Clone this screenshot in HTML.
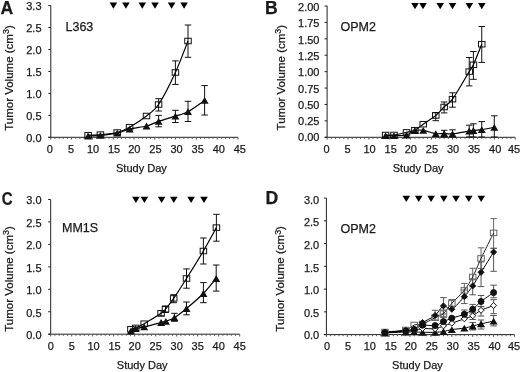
<!DOCTYPE html>
<html><head><meta charset="utf-8"><style>
html,body{margin:0;padding:0;background:#fff;}
body{width:520px;height:372px;overflow:hidden;}
svg{display:block;font-family:"Liberation Sans", sans-serif;will-change:transform;filter:blur(0.3px);}
text{fill:#1a1a1a;stroke:#1a1a1a;stroke-width:0.25px;}
</style></head><body>
<svg width="520" height="372" viewBox="0 0 520 372" shape-rendering="auto">
<line x1="50.8" y1="5.5" x2="50.8" y2="137.8" stroke="#222" stroke-width="1"/>
<line x1="48.3" y1="5.5" x2="50.8" y2="5.5" stroke="#222" stroke-width="1"/>
<text x="41.5" y="10.1" font-size="11" text-anchor="end" font-weight="normal" >3.3</text>
<line x1="48.3" y1="27.55" x2="50.8" y2="27.55" stroke="#222" stroke-width="1"/>
<text x="41.5" y="32.14" font-size="11" text-anchor="end" font-weight="normal" >2.5</text>
<line x1="48.3" y1="49.5" x2="50.8" y2="49.5" stroke="#222" stroke-width="1"/>
<text x="41.5" y="54.18" font-size="11" text-anchor="end" font-weight="normal" >2.0</text>
<line x1="48.3" y1="71.45" x2="50.8" y2="71.45" stroke="#222" stroke-width="1"/>
<text x="41.5" y="76.22" font-size="11" text-anchor="end" font-weight="normal" >1.5</text>
<line x1="48.3" y1="93.4" x2="50.8" y2="93.4" stroke="#222" stroke-width="1"/>
<text x="41.5" y="98.26" font-size="11" text-anchor="end" font-weight="normal" >1.0</text>
<line x1="48.3" y1="115.35" x2="50.8" y2="115.35" stroke="#222" stroke-width="1"/>
<text x="41.5" y="120.3" font-size="11" text-anchor="end" font-weight="normal" >0.5</text>
<line x1="48.3" y1="137.3" x2="50.8" y2="137.3" stroke="#222" stroke-width="1"/>
<text x="41.5" y="142.34" font-size="11" text-anchor="end" font-weight="normal" >0.0</text>
<line x1="48.3" y1="137.3" x2="238" y2="137.3" stroke="#222" stroke-width="1"/>
<line x1="50.8" y1="137.3" x2="50.8" y2="139.6" stroke="#555" stroke-width="1"/>
<line x1="54.96" y1="137.3" x2="54.96" y2="138.9" stroke="#555" stroke-width="1"/>
<line x1="59.12" y1="137.3" x2="59.12" y2="138.9" stroke="#555" stroke-width="1"/>
<line x1="63.28" y1="137.3" x2="63.28" y2="138.9" stroke="#555" stroke-width="1"/>
<line x1="67.44" y1="137.3" x2="67.44" y2="138.9" stroke="#555" stroke-width="1"/>
<line x1="71.6" y1="137.3" x2="71.6" y2="139.6" stroke="#555" stroke-width="1"/>
<line x1="75.76" y1="137.3" x2="75.76" y2="138.9" stroke="#555" stroke-width="1"/>
<line x1="79.92" y1="137.3" x2="79.92" y2="138.9" stroke="#555" stroke-width="1"/>
<line x1="84.08" y1="137.3" x2="84.08" y2="138.9" stroke="#555" stroke-width="1"/>
<line x1="88.24" y1="137.3" x2="88.24" y2="138.9" stroke="#555" stroke-width="1"/>
<line x1="92.4" y1="137.3" x2="92.4" y2="139.6" stroke="#555" stroke-width="1"/>
<line x1="96.56" y1="137.3" x2="96.56" y2="138.9" stroke="#555" stroke-width="1"/>
<line x1="100.72" y1="137.3" x2="100.72" y2="138.9" stroke="#555" stroke-width="1"/>
<line x1="104.88" y1="137.3" x2="104.88" y2="138.9" stroke="#555" stroke-width="1"/>
<line x1="109.04" y1="137.3" x2="109.04" y2="138.9" stroke="#555" stroke-width="1"/>
<line x1="113.2" y1="137.3" x2="113.2" y2="139.6" stroke="#555" stroke-width="1"/>
<line x1="117.36" y1="137.3" x2="117.36" y2="138.9" stroke="#555" stroke-width="1"/>
<line x1="121.52" y1="137.3" x2="121.52" y2="138.9" stroke="#555" stroke-width="1"/>
<line x1="125.68" y1="137.3" x2="125.68" y2="138.9" stroke="#555" stroke-width="1"/>
<line x1="129.84" y1="137.3" x2="129.84" y2="138.9" stroke="#555" stroke-width="1"/>
<line x1="134" y1="137.3" x2="134" y2="139.6" stroke="#555" stroke-width="1"/>
<line x1="138.16" y1="137.3" x2="138.16" y2="138.9" stroke="#555" stroke-width="1"/>
<line x1="142.32" y1="137.3" x2="142.32" y2="138.9" stroke="#555" stroke-width="1"/>
<line x1="146.48" y1="137.3" x2="146.48" y2="138.9" stroke="#555" stroke-width="1"/>
<line x1="150.64" y1="137.3" x2="150.64" y2="138.9" stroke="#555" stroke-width="1"/>
<line x1="154.8" y1="137.3" x2="154.8" y2="139.6" stroke="#555" stroke-width="1"/>
<line x1="158.96" y1="137.3" x2="158.96" y2="138.9" stroke="#555" stroke-width="1"/>
<line x1="163.12" y1="137.3" x2="163.12" y2="138.9" stroke="#555" stroke-width="1"/>
<line x1="167.28" y1="137.3" x2="167.28" y2="138.9" stroke="#555" stroke-width="1"/>
<line x1="171.44" y1="137.3" x2="171.44" y2="138.9" stroke="#555" stroke-width="1"/>
<line x1="175.6" y1="137.3" x2="175.6" y2="139.6" stroke="#555" stroke-width="1"/>
<line x1="179.76" y1="137.3" x2="179.76" y2="138.9" stroke="#555" stroke-width="1"/>
<line x1="183.92" y1="137.3" x2="183.92" y2="138.9" stroke="#555" stroke-width="1"/>
<line x1="188.08" y1="137.3" x2="188.08" y2="138.9" stroke="#555" stroke-width="1"/>
<line x1="192.24" y1="137.3" x2="192.24" y2="138.9" stroke="#555" stroke-width="1"/>
<line x1="196.4" y1="137.3" x2="196.4" y2="139.6" stroke="#555" stroke-width="1"/>
<line x1="200.56" y1="137.3" x2="200.56" y2="138.9" stroke="#555" stroke-width="1"/>
<line x1="204.72" y1="137.3" x2="204.72" y2="138.9" stroke="#555" stroke-width="1"/>
<line x1="208.88" y1="137.3" x2="208.88" y2="138.9" stroke="#555" stroke-width="1"/>
<line x1="213.04" y1="137.3" x2="213.04" y2="138.9" stroke="#555" stroke-width="1"/>
<line x1="217.2" y1="137.3" x2="217.2" y2="139.6" stroke="#555" stroke-width="1"/>
<line x1="221.36" y1="137.3" x2="221.36" y2="138.9" stroke="#555" stroke-width="1"/>
<line x1="225.52" y1="137.3" x2="225.52" y2="138.9" stroke="#555" stroke-width="1"/>
<line x1="229.68" y1="137.3" x2="229.68" y2="138.9" stroke="#555" stroke-width="1"/>
<line x1="233.84" y1="137.3" x2="233.84" y2="138.9" stroke="#555" stroke-width="1"/>
<line x1="238" y1="137.3" x2="238" y2="139.6" stroke="#555" stroke-width="1"/>
<text x="49.9" y="152.8" font-size="11" text-anchor="middle" font-weight="normal" >0</text>
<text x="71.01" y="152.8" font-size="11" text-anchor="middle" font-weight="normal" >5</text>
<text x="93.02" y="152.8" font-size="11" text-anchor="middle" font-weight="normal" >10</text>
<text x="114.13" y="152.8" font-size="11" text-anchor="middle" font-weight="normal" >15</text>
<text x="134.34" y="152.8" font-size="11" text-anchor="middle" font-weight="normal" >20</text>
<text x="155.45" y="152.8" font-size="11" text-anchor="middle" font-weight="normal" >25</text>
<text x="176.56" y="152.8" font-size="11" text-anchor="middle" font-weight="normal" >30</text>
<text x="197.67" y="152.8" font-size="11" text-anchor="middle" font-weight="normal" >35</text>
<text x="218.78" y="152.8" font-size="11" text-anchor="middle" font-weight="normal" >40</text>
<text x="239.89" y="152.8" font-size="11" text-anchor="middle" font-weight="normal" >45</text>
<text x="141.4" y="171.6" font-size="11" text-anchor="middle" font-weight="normal" >Study Day</text>
<text x="-52.8" y="0" font-size="11" textLength="105.6" lengthAdjust="spacingAndGlyphs" transform="translate(12.8,78.05) rotate(-90)">Tumor Volume (cm<tspan dy="-3.4" font-size="8.5">3</tspan><tspan dy="3.4">)</tspan></text>
<text x="0.5" y="13.6" font-size="17.6" text-anchor="start" font-weight="bold" >A</text>
<text x="65.5" y="30.7" font-size="12.5" text-anchor="start" font-weight="normal" >L363</text>
<polygon points="109.6,2.6 117.2,2.6 113.4,8.8" fill="#000"/>
<polygon points="122.1,2.6 129.7,2.6 125.9,8.8" fill="#000"/>
<polygon points="138.5,2.6 146.1,2.6 142.3,8.8" fill="#000"/>
<polygon points="151.2,2.6 158.8,2.6 155,8.8" fill="#000"/>
<polygon points="167.8,2.6 175.4,2.6 171.6,8.8" fill="#000"/>
<polygon points="180.3,2.6 187.9,2.6 184.1,8.8" fill="#000"/>
<line x1="158.6" y1="98.7" x2="158.6" y2="111" stroke="#111" stroke-width="1"/>
<line x1="155.35" y1="98.7" x2="161.85" y2="98.7" stroke="#111" stroke-width="1"/>
<line x1="155.35" y1="111" x2="161.85" y2="111" stroke="#111" stroke-width="1"/>
<line x1="175.4" y1="60.9" x2="175.4" y2="84.4" stroke="#111" stroke-width="1"/>
<line x1="172.15" y1="60.9" x2="178.65" y2="60.9" stroke="#111" stroke-width="1"/>
<line x1="172.15" y1="84.4" x2="178.65" y2="84.4" stroke="#111" stroke-width="1"/>
<line x1="188" y1="25" x2="188" y2="57.3" stroke="#111" stroke-width="1"/>
<line x1="184.75" y1="25" x2="191.25" y2="25" stroke="#111" stroke-width="1"/>
<line x1="184.75" y1="57.3" x2="191.25" y2="57.3" stroke="#111" stroke-width="1"/>
<line x1="158.6" y1="115.4" x2="158.6" y2="126.8" stroke="#111" stroke-width="1"/>
<line x1="155.35" y1="115.4" x2="161.85" y2="115.4" stroke="#111" stroke-width="1"/>
<line x1="155.35" y1="126.8" x2="161.85" y2="126.8" stroke="#111" stroke-width="1"/>
<line x1="175.4" y1="110.3" x2="175.4" y2="122.5" stroke="#111" stroke-width="1"/>
<line x1="172.15" y1="110.3" x2="178.65" y2="110.3" stroke="#111" stroke-width="1"/>
<line x1="172.15" y1="122.5" x2="178.65" y2="122.5" stroke="#111" stroke-width="1"/>
<line x1="188" y1="101.3" x2="188" y2="121.5" stroke="#111" stroke-width="1"/>
<line x1="184.75" y1="101.3" x2="191.25" y2="101.3" stroke="#111" stroke-width="1"/>
<line x1="184.75" y1="121.5" x2="191.25" y2="121.5" stroke="#111" stroke-width="1"/>
<line x1="204.6" y1="85.6" x2="204.6" y2="115" stroke="#111" stroke-width="1"/>
<line x1="201.35" y1="85.6" x2="207.85" y2="85.6" stroke="#111" stroke-width="1"/>
<line x1="201.35" y1="115" x2="207.85" y2="115" stroke="#111" stroke-width="1"/>
<path d="M88.1,135.2 C89.7,135.12 96.62,134.95 100.4,134.6 C104.18,134.25 113.4,133.46 117.2,132.5 C121,131.54 125.79,129.34 129.6,127.2 C133.41,125.06 142.73,118.95 146.5,116 C150.27,113.05 154.84,110.16 158.6,104.5 C162.36,98.84 171.58,80.75 175.4,72.5 C179.22,64.25 186.36,45.09 188,41" fill="none" stroke="#000" stroke-width="1.2"/>
<path d="M88.1,136 C89.7,135.92 96.62,135.76 100.4,135.4 C104.18,135.04 113.4,134.03 117.2,133.2 C121,132.37 125.79,129.94 129.6,129 C133.41,128.06 142.73,126.99 146.5,126 C150.27,125.01 154.84,122.69 158.6,121.4 C162.36,120.11 171.58,117.36 175.4,116.1 C179.22,114.84 184.2,113.74 188,111.7 C191.8,109.66 202.44,101.87 204.6,100.4" fill="none" stroke="#000" stroke-width="1.2"/>
<rect x="84.85" y="132.45" width="6.5" height="5.5" fill="none" stroke="#111" stroke-width="1"/>
<rect x="97.15" y="131.85" width="6.5" height="5.5" fill="none" stroke="#111" stroke-width="1"/>
<rect x="113.95" y="129.75" width="6.5" height="5.5" fill="none" stroke="#111" stroke-width="1"/>
<rect x="126.35" y="124.45" width="6.5" height="5.5" fill="none" stroke="#111" stroke-width="1"/>
<rect x="143.25" y="113.25" width="6.5" height="5.5" fill="none" stroke="#111" stroke-width="1"/>
<rect x="155.35" y="101.75" width="6.5" height="5.5" fill="none" stroke="#111" stroke-width="1"/>
<rect x="172.15" y="69.75" width="6.5" height="5.5" fill="none" stroke="#111" stroke-width="1"/>
<rect x="184.75" y="38.25" width="6.5" height="5.5" fill="none" stroke="#111" stroke-width="1"/>
<polygon points="84.1,139.4 92.1,139.4 88.1,132.6" fill="#111"/>
<polygon points="96.4,138.8 104.4,138.8 100.4,132" fill="#111"/>
<polygon points="113.2,136.6 121.2,136.6 117.2,129.8" fill="#111"/>
<polygon points="125.6,132.4 133.6,132.4 129.6,125.6" fill="#111"/>
<polygon points="142.5,129.4 150.5,129.4 146.5,122.6" fill="#111"/>
<polygon points="154.6,124.8 162.6,124.8 158.6,118" fill="#111"/>
<polygon points="171.4,119.5 179.4,119.5 175.4,112.7" fill="#111"/>
<polygon points="184,115.1 192,115.1 188,108.3" fill="#111"/>
<polygon points="200.6,103.8 208.6,103.8 204.6,97" fill="#111"/>
<line x1="327.1" y1="5.8" x2="327.1" y2="137.8" stroke="#222" stroke-width="1"/>
<line x1="324.6" y1="6" x2="327.1" y2="6" stroke="#222" stroke-width="1"/>
<text x="319.5" y="11.1" font-size="11" text-anchor="end" font-weight="normal" >2.00</text>
<line x1="324.6" y1="22.41" x2="327.1" y2="22.41" stroke="#222" stroke-width="1"/>
<text x="319.5" y="27.38" font-size="11" text-anchor="end" font-weight="normal" >1.75</text>
<line x1="324.6" y1="38.83" x2="327.1" y2="38.83" stroke="#222" stroke-width="1"/>
<text x="319.5" y="43.66" font-size="11" text-anchor="end" font-weight="normal" >1.50</text>
<line x1="324.6" y1="55.24" x2="327.1" y2="55.24" stroke="#222" stroke-width="1"/>
<text x="319.5" y="59.94" font-size="11" text-anchor="end" font-weight="normal" >1.25</text>
<line x1="324.6" y1="71.65" x2="327.1" y2="71.65" stroke="#222" stroke-width="1"/>
<text x="319.5" y="76.22" font-size="11" text-anchor="end" font-weight="normal" >1.00</text>
<line x1="324.6" y1="88.06" x2="327.1" y2="88.06" stroke="#222" stroke-width="1"/>
<text x="319.5" y="92.5" font-size="11" text-anchor="end" font-weight="normal" >0.75</text>
<line x1="324.6" y1="104.48" x2="327.1" y2="104.48" stroke="#222" stroke-width="1"/>
<text x="319.5" y="108.78" font-size="11" text-anchor="end" font-weight="normal" >0.50</text>
<line x1="324.6" y1="120.89" x2="327.1" y2="120.89" stroke="#222" stroke-width="1"/>
<text x="319.5" y="125.06" font-size="11" text-anchor="end" font-weight="normal" >0.25</text>
<line x1="324.6" y1="137.3" x2="327.1" y2="137.3" stroke="#222" stroke-width="1"/>
<text x="319.5" y="141.34" font-size="11" text-anchor="end" font-weight="normal" >0.00</text>
<line x1="324.6" y1="137.3" x2="515.2" y2="137.3" stroke="#222" stroke-width="1"/>
<line x1="327.1" y1="137.3" x2="327.1" y2="139.6" stroke="#555" stroke-width="1"/>
<line x1="331.28" y1="137.3" x2="331.28" y2="138.9" stroke="#555" stroke-width="1"/>
<line x1="335.46" y1="137.3" x2="335.46" y2="138.9" stroke="#555" stroke-width="1"/>
<line x1="339.64" y1="137.3" x2="339.64" y2="138.9" stroke="#555" stroke-width="1"/>
<line x1="343.82" y1="137.3" x2="343.82" y2="138.9" stroke="#555" stroke-width="1"/>
<line x1="348" y1="137.3" x2="348" y2="139.6" stroke="#555" stroke-width="1"/>
<line x1="352.18" y1="137.3" x2="352.18" y2="138.9" stroke="#555" stroke-width="1"/>
<line x1="356.36" y1="137.3" x2="356.36" y2="138.9" stroke="#555" stroke-width="1"/>
<line x1="360.54" y1="137.3" x2="360.54" y2="138.9" stroke="#555" stroke-width="1"/>
<line x1="364.72" y1="137.3" x2="364.72" y2="138.9" stroke="#555" stroke-width="1"/>
<line x1="368.9" y1="137.3" x2="368.9" y2="139.6" stroke="#555" stroke-width="1"/>
<line x1="373.08" y1="137.3" x2="373.08" y2="138.9" stroke="#555" stroke-width="1"/>
<line x1="377.26" y1="137.3" x2="377.26" y2="138.9" stroke="#555" stroke-width="1"/>
<line x1="381.44" y1="137.3" x2="381.44" y2="138.9" stroke="#555" stroke-width="1"/>
<line x1="385.62" y1="137.3" x2="385.62" y2="138.9" stroke="#555" stroke-width="1"/>
<line x1="389.8" y1="137.3" x2="389.8" y2="139.6" stroke="#555" stroke-width="1"/>
<line x1="393.98" y1="137.3" x2="393.98" y2="138.9" stroke="#555" stroke-width="1"/>
<line x1="398.16" y1="137.3" x2="398.16" y2="138.9" stroke="#555" stroke-width="1"/>
<line x1="402.34" y1="137.3" x2="402.34" y2="138.9" stroke="#555" stroke-width="1"/>
<line x1="406.52" y1="137.3" x2="406.52" y2="138.9" stroke="#555" stroke-width="1"/>
<line x1="410.7" y1="137.3" x2="410.7" y2="139.6" stroke="#555" stroke-width="1"/>
<line x1="414.88" y1="137.3" x2="414.88" y2="138.9" stroke="#555" stroke-width="1"/>
<line x1="419.06" y1="137.3" x2="419.06" y2="138.9" stroke="#555" stroke-width="1"/>
<line x1="423.24" y1="137.3" x2="423.24" y2="138.9" stroke="#555" stroke-width="1"/>
<line x1="427.42" y1="137.3" x2="427.42" y2="138.9" stroke="#555" stroke-width="1"/>
<line x1="431.6" y1="137.3" x2="431.6" y2="139.6" stroke="#555" stroke-width="1"/>
<line x1="435.78" y1="137.3" x2="435.78" y2="138.9" stroke="#555" stroke-width="1"/>
<line x1="439.96" y1="137.3" x2="439.96" y2="138.9" stroke="#555" stroke-width="1"/>
<line x1="444.14" y1="137.3" x2="444.14" y2="138.9" stroke="#555" stroke-width="1"/>
<line x1="448.32" y1="137.3" x2="448.32" y2="138.9" stroke="#555" stroke-width="1"/>
<line x1="452.5" y1="137.3" x2="452.5" y2="139.6" stroke="#555" stroke-width="1"/>
<line x1="456.68" y1="137.3" x2="456.68" y2="138.9" stroke="#555" stroke-width="1"/>
<line x1="460.86" y1="137.3" x2="460.86" y2="138.9" stroke="#555" stroke-width="1"/>
<line x1="465.04" y1="137.3" x2="465.04" y2="138.9" stroke="#555" stroke-width="1"/>
<line x1="469.22" y1="137.3" x2="469.22" y2="138.9" stroke="#555" stroke-width="1"/>
<line x1="473.4" y1="137.3" x2="473.4" y2="139.6" stroke="#555" stroke-width="1"/>
<line x1="477.58" y1="137.3" x2="477.58" y2="138.9" stroke="#555" stroke-width="1"/>
<line x1="481.76" y1="137.3" x2="481.76" y2="138.9" stroke="#555" stroke-width="1"/>
<line x1="485.94" y1="137.3" x2="485.94" y2="138.9" stroke="#555" stroke-width="1"/>
<line x1="490.12" y1="137.3" x2="490.12" y2="138.9" stroke="#555" stroke-width="1"/>
<line x1="494.3" y1="137.3" x2="494.3" y2="139.6" stroke="#555" stroke-width="1"/>
<line x1="498.48" y1="137.3" x2="498.48" y2="138.9" stroke="#555" stroke-width="1"/>
<line x1="502.66" y1="137.3" x2="502.66" y2="138.9" stroke="#555" stroke-width="1"/>
<line x1="506.84" y1="137.3" x2="506.84" y2="138.9" stroke="#555" stroke-width="1"/>
<line x1="511.02" y1="137.3" x2="511.02" y2="138.9" stroke="#555" stroke-width="1"/>
<line x1="515.2" y1="137.3" x2="515.2" y2="139.6" stroke="#555" stroke-width="1"/>
<text x="326.5" y="152.8" font-size="11" text-anchor="middle" font-weight="normal" >0</text>
<text x="347.58" y="152.8" font-size="11" text-anchor="middle" font-weight="normal" >5</text>
<text x="369.57" y="152.8" font-size="11" text-anchor="middle" font-weight="normal" >10</text>
<text x="390.65" y="152.8" font-size="11" text-anchor="middle" font-weight="normal" >15</text>
<text x="410.84" y="152.8" font-size="11" text-anchor="middle" font-weight="normal" >20</text>
<text x="431.93" y="152.8" font-size="11" text-anchor="middle" font-weight="normal" >25</text>
<text x="453.01" y="152.8" font-size="11" text-anchor="middle" font-weight="normal" >30</text>
<text x="474.1" y="152.8" font-size="11" text-anchor="middle" font-weight="normal" >35</text>
<text x="495.18" y="152.8" font-size="11" text-anchor="middle" font-weight="normal" >40</text>
<text x="514" y="152.8" font-size="11" text-anchor="middle" font-weight="normal" >45</text>
<text x="418.15" y="171.6" font-size="11" text-anchor="middle" font-weight="normal" >Study Day</text>
<text x="-52.8" y="0" font-size="11" textLength="105.6" lengthAdjust="spacingAndGlyphs" transform="translate(284.6,77.65) rotate(-90)">Tumor Volume (cm<tspan dy="-3.4" font-size="8.5">3</tspan><tspan dy="3.4">)</tspan></text>
<text x="265.1" y="13.8" font-size="17.6" text-anchor="start" font-weight="bold" >B</text>
<text x="340.5" y="30.7" font-size="12.5" text-anchor="start" font-weight="normal" >OPM2</text>
<polygon points="411.2,3.1 418.8,3.1 415,9.3" fill="#000"/>
<polygon points="419.2,3.1 426.8,3.1 423,9.3" fill="#000"/>
<polygon points="436.4,3.1 444,3.1 440.2,9.3" fill="#000"/>
<polygon points="448.7,3.1 456.3,3.1 452.5,9.3" fill="#000"/>
<polygon points="465.5,3.1 473.1,3.1 469.3,9.3" fill="#000"/>
<polygon points="478,3.1 485.6,3.1 481.8,9.3" fill="#000"/>
<line x1="435.78" y1="112.5" x2="435.78" y2="120.7" stroke="#111" stroke-width="1"/>
<line x1="432.53" y1="112.5" x2="439.03" y2="112.5" stroke="#111" stroke-width="1"/>
<line x1="432.53" y1="120.7" x2="439.03" y2="120.7" stroke="#111" stroke-width="1"/>
<line x1="444.14" y1="102" x2="444.14" y2="112.9" stroke="#111" stroke-width="1"/>
<line x1="440.89" y1="102" x2="447.39" y2="102" stroke="#111" stroke-width="1"/>
<line x1="440.89" y1="112.9" x2="447.39" y2="112.9" stroke="#111" stroke-width="1"/>
<line x1="452.5" y1="92.8" x2="452.5" y2="107.2" stroke="#111" stroke-width="1"/>
<line x1="449.25" y1="92.8" x2="455.75" y2="92.8" stroke="#111" stroke-width="1"/>
<line x1="449.25" y1="107.2" x2="455.75" y2="107.2" stroke="#111" stroke-width="1"/>
<line x1="469.22" y1="57.5" x2="469.22" y2="85.9" stroke="#111" stroke-width="1"/>
<line x1="465.97" y1="57.5" x2="472.47" y2="57.5" stroke="#111" stroke-width="1"/>
<line x1="465.97" y1="85.9" x2="472.47" y2="85.9" stroke="#111" stroke-width="1"/>
<line x1="473.4" y1="51.5" x2="473.4" y2="79.3" stroke="#111" stroke-width="1"/>
<line x1="470.15" y1="51.5" x2="476.65" y2="51.5" stroke="#111" stroke-width="1"/>
<line x1="470.15" y1="79.3" x2="476.65" y2="79.3" stroke="#111" stroke-width="1"/>
<line x1="481.76" y1="26.5" x2="481.76" y2="62.4" stroke="#111" stroke-width="1"/>
<line x1="478.51" y1="26.5" x2="485.01" y2="26.5" stroke="#111" stroke-width="1"/>
<line x1="478.51" y1="62.4" x2="485.01" y2="62.4" stroke="#111" stroke-width="1"/>
<line x1="469.22" y1="125.2" x2="469.22" y2="137" stroke="#111" stroke-width="1"/>
<line x1="465.97" y1="125.2" x2="472.47" y2="125.2" stroke="#111" stroke-width="1"/>
<line x1="465.97" y1="137" x2="472.47" y2="137" stroke="#111" stroke-width="1"/>
<line x1="473.4" y1="123.8" x2="473.4" y2="137" stroke="#111" stroke-width="1"/>
<line x1="470.15" y1="123.8" x2="476.65" y2="123.8" stroke="#111" stroke-width="1"/>
<line x1="470.15" y1="137" x2="476.65" y2="137" stroke="#111" stroke-width="1"/>
<line x1="481.76" y1="121.6" x2="481.76" y2="137" stroke="#111" stroke-width="1"/>
<line x1="478.51" y1="121.6" x2="485.01" y2="121.6" stroke="#111" stroke-width="1"/>
<line x1="478.51" y1="137" x2="485.01" y2="137" stroke="#111" stroke-width="1"/>
<line x1="494.3" y1="115.8" x2="494.3" y2="137" stroke="#111" stroke-width="1"/>
<line x1="491.05" y1="115.8" x2="497.55" y2="115.8" stroke="#111" stroke-width="1"/>
<line x1="491.05" y1="137" x2="497.55" y2="137" stroke="#111" stroke-width="1"/>
<line x1="444.14" y1="130.3" x2="444.14" y2="137" stroke="#111" stroke-width="1"/>
<line x1="440.89" y1="130.3" x2="447.39" y2="130.3" stroke="#111" stroke-width="1"/>
<line x1="440.89" y1="137" x2="447.39" y2="137" stroke="#111" stroke-width="1"/>
<line x1="452.5" y1="129.8" x2="452.5" y2="137" stroke="#111" stroke-width="1"/>
<line x1="449.25" y1="129.8" x2="455.75" y2="129.8" stroke="#111" stroke-width="1"/>
<line x1="449.25" y1="137" x2="455.75" y2="137" stroke="#111" stroke-width="1"/>
<path d="M385.62,135 C386.71,135 391.26,135.34 393.98,135 C396.7,134.66 403.8,133.02 406.52,132.4 C409.24,131.78 412.71,131.27 414.88,130.2 C417.05,129.13 420.52,126.11 423.24,124.2 C425.96,122.29 433.06,117.74 435.78,115.5 C438.5,113.26 441.97,109.12 444.14,107 C446.31,104.88 449.24,103.8 452.5,99.2 C455.76,94.6 466.5,76.07 469.22,71.6 C471.94,67.13 471.77,68.36 473.4,64.8 C475.03,61.24 480.67,46.88 481.76,44.2" fill="none" stroke="#000" stroke-width="1.2"/>
<path d="M385.62,135.7 C386.71,135.7 391.26,135.79 393.98,135.7 C396.7,135.61 403.8,135.68 406.52,135 C409.24,134.32 412.71,131.11 414.88,130.5 C417.05,129.89 420.52,129.9 423.24,130.3 C425.96,130.7 433.06,133.18 435.78,133.6 C438.5,134.02 441.97,133.47 444.14,133.5 C446.31,133.53 449.24,134.12 452.5,133.8 C455.76,133.48 466.5,131.43 469.22,131 C471.94,130.57 471.77,130.67 473.4,130.5 C475.03,130.33 479.04,130.12 481.76,129.7 C484.48,129.28 492.67,127.61 494.3,127.3" fill="none" stroke="#000" stroke-width="1.2"/>
<rect x="382.37" y="132.25" width="6.5" height="5.5" fill="none" stroke="#111" stroke-width="1"/>
<rect x="390.73" y="132.25" width="6.5" height="5.5" fill="none" stroke="#111" stroke-width="1"/>
<rect x="403.27" y="129.65" width="6.5" height="5.5" fill="none" stroke="#111" stroke-width="1"/>
<rect x="411.63" y="127.45" width="6.5" height="5.5" fill="none" stroke="#111" stroke-width="1"/>
<rect x="419.99" y="121.45" width="6.5" height="5.5" fill="none" stroke="#111" stroke-width="1"/>
<rect x="432.53" y="112.75" width="6.5" height="5.5" fill="none" stroke="#111" stroke-width="1"/>
<rect x="440.89" y="104.25" width="6.5" height="5.5" fill="none" stroke="#111" stroke-width="1"/>
<rect x="449.25" y="96.45" width="6.5" height="5.5" fill="none" stroke="#111" stroke-width="1"/>
<rect x="465.97" y="68.85" width="6.5" height="5.5" fill="none" stroke="#111" stroke-width="1"/>
<rect x="470.15" y="62.05" width="6.5" height="5.5" fill="none" stroke="#111" stroke-width="1"/>
<rect x="478.51" y="41.45" width="6.5" height="5.5" fill="none" stroke="#111" stroke-width="1"/>
<polygon points="381.62,139.1 389.62,139.1 385.62,132.3" fill="#111"/>
<polygon points="389.98,139.1 397.98,139.1 393.98,132.3" fill="#111"/>
<polygon points="402.52,138.4 410.52,138.4 406.52,131.6" fill="#111"/>
<polygon points="410.88,133.9 418.88,133.9 414.88,127.1" fill="#111"/>
<polygon points="419.24,133.7 427.24,133.7 423.24,126.9" fill="#111"/>
<polygon points="431.78,137 439.78,137 435.78,130.2" fill="#111"/>
<polygon points="440.14,136.9 448.14,136.9 444.14,130.1" fill="#111"/>
<polygon points="448.5,137.2 456.5,137.2 452.5,130.4" fill="#111"/>
<polygon points="465.22,134.4 473.22,134.4 469.22,127.6" fill="#111"/>
<polygon points="469.4,133.9 477.4,133.9 473.4,127.1" fill="#111"/>
<polygon points="477.76,133.1 485.76,133.1 481.76,126.3" fill="#111"/>
<polygon points="490.3,130.7 498.3,130.7 494.3,123.9" fill="#111"/>
<line x1="50.7" y1="199.5" x2="50.7" y2="334.7" stroke="#222" stroke-width="1"/>
<line x1="48.2" y1="199.5" x2="50.7" y2="199.5" stroke="#222" stroke-width="1"/>
<text x="41.5" y="204" font-size="11" text-anchor="end" font-weight="normal" >3.0</text>
<line x1="48.2" y1="221.95" x2="50.7" y2="221.95" stroke="#222" stroke-width="1"/>
<text x="41.5" y="226.5" font-size="11" text-anchor="end" font-weight="normal" >2.5</text>
<line x1="48.2" y1="244.4" x2="50.7" y2="244.4" stroke="#222" stroke-width="1"/>
<text x="41.5" y="249" font-size="11" text-anchor="end" font-weight="normal" >2.0</text>
<line x1="48.2" y1="266.85" x2="50.7" y2="266.85" stroke="#222" stroke-width="1"/>
<text x="41.5" y="271.5" font-size="11" text-anchor="end" font-weight="normal" >1.5</text>
<line x1="48.2" y1="289.3" x2="50.7" y2="289.3" stroke="#222" stroke-width="1"/>
<text x="41.5" y="294" font-size="11" text-anchor="end" font-weight="normal" >1.0</text>
<line x1="48.2" y1="311.75" x2="50.7" y2="311.75" stroke="#222" stroke-width="1"/>
<text x="41.5" y="316.5" font-size="11" text-anchor="end" font-weight="normal" >0.5</text>
<line x1="48.2" y1="334.2" x2="50.7" y2="334.2" stroke="#222" stroke-width="1"/>
<text x="41.5" y="339" font-size="11" text-anchor="end" font-weight="normal" >0.0</text>
<line x1="48.2" y1="334.2" x2="239.7" y2="334.2" stroke="#222" stroke-width="1"/>
<line x1="50.7" y1="334.2" x2="50.7" y2="336.5" stroke="#555" stroke-width="1"/>
<line x1="54.9" y1="334.2" x2="54.9" y2="335.8" stroke="#555" stroke-width="1"/>
<line x1="59.1" y1="334.2" x2="59.1" y2="335.8" stroke="#555" stroke-width="1"/>
<line x1="63.3" y1="334.2" x2="63.3" y2="335.8" stroke="#555" stroke-width="1"/>
<line x1="67.5" y1="334.2" x2="67.5" y2="335.8" stroke="#555" stroke-width="1"/>
<line x1="71.7" y1="334.2" x2="71.7" y2="336.5" stroke="#555" stroke-width="1"/>
<line x1="75.9" y1="334.2" x2="75.9" y2="335.8" stroke="#555" stroke-width="1"/>
<line x1="80.1" y1="334.2" x2="80.1" y2="335.8" stroke="#555" stroke-width="1"/>
<line x1="84.3" y1="334.2" x2="84.3" y2="335.8" stroke="#555" stroke-width="1"/>
<line x1="88.5" y1="334.2" x2="88.5" y2="335.8" stroke="#555" stroke-width="1"/>
<line x1="92.7" y1="334.2" x2="92.7" y2="336.5" stroke="#555" stroke-width="1"/>
<line x1="96.9" y1="334.2" x2="96.9" y2="335.8" stroke="#555" stroke-width="1"/>
<line x1="101.1" y1="334.2" x2="101.1" y2="335.8" stroke="#555" stroke-width="1"/>
<line x1="105.3" y1="334.2" x2="105.3" y2="335.8" stroke="#555" stroke-width="1"/>
<line x1="109.5" y1="334.2" x2="109.5" y2="335.8" stroke="#555" stroke-width="1"/>
<line x1="113.7" y1="334.2" x2="113.7" y2="336.5" stroke="#555" stroke-width="1"/>
<line x1="117.9" y1="334.2" x2="117.9" y2="335.8" stroke="#555" stroke-width="1"/>
<line x1="122.1" y1="334.2" x2="122.1" y2="335.8" stroke="#555" stroke-width="1"/>
<line x1="126.3" y1="334.2" x2="126.3" y2="335.8" stroke="#555" stroke-width="1"/>
<line x1="130.5" y1="334.2" x2="130.5" y2="335.8" stroke="#555" stroke-width="1"/>
<line x1="134.7" y1="334.2" x2="134.7" y2="336.5" stroke="#555" stroke-width="1"/>
<line x1="138.9" y1="334.2" x2="138.9" y2="335.8" stroke="#555" stroke-width="1"/>
<line x1="143.1" y1="334.2" x2="143.1" y2="335.8" stroke="#555" stroke-width="1"/>
<line x1="147.3" y1="334.2" x2="147.3" y2="335.8" stroke="#555" stroke-width="1"/>
<line x1="151.5" y1="334.2" x2="151.5" y2="335.8" stroke="#555" stroke-width="1"/>
<line x1="155.7" y1="334.2" x2="155.7" y2="336.5" stroke="#555" stroke-width="1"/>
<line x1="159.9" y1="334.2" x2="159.9" y2="335.8" stroke="#555" stroke-width="1"/>
<line x1="164.1" y1="334.2" x2="164.1" y2="335.8" stroke="#555" stroke-width="1"/>
<line x1="168.3" y1="334.2" x2="168.3" y2="335.8" stroke="#555" stroke-width="1"/>
<line x1="172.5" y1="334.2" x2="172.5" y2="335.8" stroke="#555" stroke-width="1"/>
<line x1="176.7" y1="334.2" x2="176.7" y2="336.5" stroke="#555" stroke-width="1"/>
<line x1="180.9" y1="334.2" x2="180.9" y2="335.8" stroke="#555" stroke-width="1"/>
<line x1="185.1" y1="334.2" x2="185.1" y2="335.8" stroke="#555" stroke-width="1"/>
<line x1="189.3" y1="334.2" x2="189.3" y2="335.8" stroke="#555" stroke-width="1"/>
<line x1="193.5" y1="334.2" x2="193.5" y2="335.8" stroke="#555" stroke-width="1"/>
<line x1="197.7" y1="334.2" x2="197.7" y2="336.5" stroke="#555" stroke-width="1"/>
<line x1="201.9" y1="334.2" x2="201.9" y2="335.8" stroke="#555" stroke-width="1"/>
<line x1="206.1" y1="334.2" x2="206.1" y2="335.8" stroke="#555" stroke-width="1"/>
<line x1="210.3" y1="334.2" x2="210.3" y2="335.8" stroke="#555" stroke-width="1"/>
<line x1="214.5" y1="334.2" x2="214.5" y2="335.8" stroke="#555" stroke-width="1"/>
<line x1="218.7" y1="334.2" x2="218.7" y2="336.5" stroke="#555" stroke-width="1"/>
<line x1="222.9" y1="334.2" x2="222.9" y2="335.8" stroke="#555" stroke-width="1"/>
<line x1="227.1" y1="334.2" x2="227.1" y2="335.8" stroke="#555" stroke-width="1"/>
<line x1="231.3" y1="334.2" x2="231.3" y2="335.8" stroke="#555" stroke-width="1"/>
<line x1="235.5" y1="334.2" x2="235.5" y2="335.8" stroke="#555" stroke-width="1"/>
<line x1="239.7" y1="334.2" x2="239.7" y2="336.5" stroke="#555" stroke-width="1"/>
<text x="50.7" y="349.7" font-size="11" text-anchor="middle" font-weight="normal" >0</text>
<text x="71.7" y="349.7" font-size="11" text-anchor="middle" font-weight="normal" >5</text>
<text x="93.6" y="349.7" font-size="11" text-anchor="middle" font-weight="normal" >10</text>
<text x="114.6" y="349.7" font-size="11" text-anchor="middle" font-weight="normal" >15</text>
<text x="134.7" y="349.7" font-size="11" text-anchor="middle" font-weight="normal" >20</text>
<text x="155.7" y="349.7" font-size="11" text-anchor="middle" font-weight="normal" >25</text>
<text x="176.7" y="349.7" font-size="11" text-anchor="middle" font-weight="normal" >30</text>
<text x="197.7" y="349.7" font-size="11" text-anchor="middle" font-weight="normal" >35</text>
<text x="218.7" y="349.7" font-size="11" text-anchor="middle" font-weight="normal" >40</text>
<text x="239.7" y="349.7" font-size="11" text-anchor="middle" font-weight="normal" >45</text>
<text x="142.2" y="368.5" font-size="11" text-anchor="middle" font-weight="normal" >Study Day</text>
<text x="-52.8" y="0" font-size="11" textLength="105.6" lengthAdjust="spacingAndGlyphs" transform="translate(12.8,279) rotate(-90)">Tumor Volume (cm<tspan dy="-3.4" font-size="8.5">3</tspan><tspan dy="3.4">)</tspan></text>
<text x="0" y="0" font-size="17.6" font-weight="bold" transform="translate(1.7,205) scale(0.85,1)">C</text>
<text x="62" y="232" font-size="12.5" text-anchor="start" font-weight="normal" >MM1S</text>
<polygon points="132.1,196.7 139.7,196.7 135.9,202.9" fill="#000"/>
<polygon points="140.6,196.7 148.2,196.7 144.4,202.9" fill="#000"/>
<polygon points="157.8,196.7 165.4,196.7 161.6,202.9" fill="#000"/>
<polygon points="170,196.7 177.6,196.7 173.8,202.9" fill="#000"/>
<polygon points="187.3,196.7 194.9,196.7 191.1,202.9" fill="#000"/>
<polygon points="200.2,196.7 207.8,196.7 204,202.9" fill="#000"/>
<line x1="186.5" y1="268.9" x2="186.5" y2="288.2" stroke="#111" stroke-width="1"/>
<line x1="183.25" y1="268.9" x2="189.75" y2="268.9" stroke="#111" stroke-width="1"/>
<line x1="183.25" y1="288.2" x2="189.75" y2="288.2" stroke="#111" stroke-width="1"/>
<line x1="173.7" y1="294.7" x2="173.7" y2="302.7" stroke="#111" stroke-width="1"/>
<line x1="170.45" y1="294.7" x2="176.95" y2="294.7" stroke="#111" stroke-width="1"/>
<line x1="170.45" y1="302.7" x2="176.95" y2="302.7" stroke="#111" stroke-width="1"/>
<line x1="203.4" y1="238" x2="203.4" y2="264" stroke="#111" stroke-width="1"/>
<line x1="200.15" y1="238" x2="206.65" y2="238" stroke="#111" stroke-width="1"/>
<line x1="200.15" y1="264" x2="206.65" y2="264" stroke="#111" stroke-width="1"/>
<line x1="216.4" y1="214.3" x2="216.4" y2="241.2" stroke="#111" stroke-width="1"/>
<line x1="213.15" y1="214.3" x2="219.65" y2="214.3" stroke="#111" stroke-width="1"/>
<line x1="213.15" y1="241.2" x2="219.65" y2="241.2" stroke="#111" stroke-width="1"/>
<line x1="165.5" y1="306" x2="165.5" y2="312.5" stroke="#111" stroke-width="1"/>
<line x1="162.25" y1="306" x2="168.75" y2="306" stroke="#111" stroke-width="1"/>
<line x1="162.25" y1="312.5" x2="168.75" y2="312.5" stroke="#111" stroke-width="1"/>
<line x1="161.1" y1="310.5" x2="161.1" y2="316" stroke="#111" stroke-width="1"/>
<line x1="157.85" y1="310.5" x2="164.35" y2="310.5" stroke="#111" stroke-width="1"/>
<line x1="157.85" y1="316" x2="164.35" y2="316" stroke="#111" stroke-width="1"/>
<line x1="216.2" y1="265" x2="216.2" y2="291.1" stroke="#111" stroke-width="1"/>
<line x1="212.95" y1="265" x2="219.45" y2="265" stroke="#111" stroke-width="1"/>
<line x1="212.95" y1="291.1" x2="219.45" y2="291.1" stroke="#111" stroke-width="1"/>
<line x1="203.4" y1="282.6" x2="203.4" y2="302.7" stroke="#111" stroke-width="1"/>
<line x1="200.15" y1="282.6" x2="206.65" y2="282.6" stroke="#111" stroke-width="1"/>
<line x1="200.15" y1="302.7" x2="206.65" y2="302.7" stroke="#111" stroke-width="1"/>
<line x1="186.5" y1="302" x2="186.5" y2="314.8" stroke="#111" stroke-width="1"/>
<line x1="183.25" y1="302" x2="189.75" y2="302" stroke="#111" stroke-width="1"/>
<line x1="183.25" y1="314.8" x2="189.75" y2="314.8" stroke="#111" stroke-width="1"/>
<line x1="174.4" y1="313.3" x2="174.4" y2="321.3" stroke="#111" stroke-width="1"/>
<line x1="171.15" y1="313.3" x2="177.65" y2="313.3" stroke="#111" stroke-width="1"/>
<line x1="171.15" y1="321.3" x2="177.65" y2="321.3" stroke="#111" stroke-width="1"/>
<path d="M130.9,329.3 C131.52,329.12 133.97,328.63 135.7,327.9 C137.43,327.17 140.9,325.6 144.2,323.7 C147.5,321.8 158.33,315.19 161.1,313.3 C163.87,311.42 163.86,311.14 165.5,309.2 C167.14,307.26 170.97,302.39 173.7,298.4 C176.43,294.41 182.64,284.66 186.5,278.5 C190.36,272.34 199.51,257.62 203.4,251 C207.29,244.38 214.71,230.64 216.4,227.6" fill="none" stroke="#000" stroke-width="1.2"/>
<path d="M130.9,331 C131.52,330.69 133.97,329.13 135.7,328.6 C137.43,328.07 140.9,327.69 144.2,326.9 C147.5,326.11 158.28,323.23 161.1,322.5 C163.92,321.77 164.17,321.92 165.9,321.3 C167.63,320.68 171.72,319.36 174.4,317.7 C177.08,316.04 182.73,311.65 186.5,308.5 C190.27,305.35 199.54,297.4 203.4,293.5 C207.26,289.6 214.54,280.45 216.2,278.5" fill="none" stroke="#000" stroke-width="1.2"/>
<rect x="127.65" y="326.55" width="6.5" height="5.5" fill="none" stroke="#111" stroke-width="1"/>
<rect x="132.45" y="325.15" width="6.5" height="5.5" fill="none" stroke="#111" stroke-width="1"/>
<rect x="140.95" y="320.95" width="6.5" height="5.5" fill="none" stroke="#111" stroke-width="1"/>
<rect x="157.85" y="310.55" width="6.5" height="5.5" fill="none" stroke="#111" stroke-width="1"/>
<rect x="162.25" y="306.45" width="6.5" height="5.5" fill="none" stroke="#111" stroke-width="1"/>
<rect x="170.45" y="295.65" width="6.5" height="5.5" fill="none" stroke="#111" stroke-width="1"/>
<rect x="183.25" y="275.75" width="6.5" height="5.5" fill="none" stroke="#111" stroke-width="1"/>
<rect x="200.15" y="248.25" width="6.5" height="5.5" fill="none" stroke="#111" stroke-width="1"/>
<rect x="213.15" y="224.85" width="6.5" height="5.5" fill="none" stroke="#111" stroke-width="1"/>
<polygon points="126.9,334.4 134.9,334.4 130.9,327.6" fill="#111"/>
<polygon points="131.7,332 139.7,332 135.7,325.2" fill="#111"/>
<polygon points="140.2,330.3 148.2,330.3 144.2,323.5" fill="#111"/>
<polygon points="157.1,325.9 165.1,325.9 161.1,319.1" fill="#111"/>
<polygon points="161.9,324.7 169.9,324.7 165.9,317.9" fill="#111"/>
<polygon points="170.4,321.1 178.4,321.1 174.4,314.3" fill="#111"/>
<polygon points="182.5,311.9 190.5,311.9 186.5,305.1" fill="#111"/>
<polygon points="199.4,296.9 207.4,296.9 203.4,290.1" fill="#111"/>
<polygon points="212.2,281.9 220.2,281.9 216.2,275.1" fill="#111"/>
<line x1="326.4" y1="198.1" x2="326.4" y2="335.1" stroke="#222" stroke-width="1"/>
<line x1="323.9" y1="198.1" x2="326.4" y2="198.1" stroke="#222" stroke-width="1"/>
<text x="319.2" y="203.9" font-size="11" text-anchor="end" font-weight="normal" >3.0</text>
<line x1="323.9" y1="220.85" x2="326.4" y2="220.85" stroke="#222" stroke-width="1"/>
<text x="319.2" y="226.48" font-size="11" text-anchor="end" font-weight="normal" >2.5</text>
<line x1="323.9" y1="243.6" x2="326.4" y2="243.6" stroke="#222" stroke-width="1"/>
<text x="319.2" y="249.06" font-size="11" text-anchor="end" font-weight="normal" >2.0</text>
<line x1="323.9" y1="266.35" x2="326.4" y2="266.35" stroke="#222" stroke-width="1"/>
<text x="319.2" y="271.64" font-size="11" text-anchor="end" font-weight="normal" >1.5</text>
<line x1="323.9" y1="289.1" x2="326.4" y2="289.1" stroke="#222" stroke-width="1"/>
<text x="319.2" y="294.22" font-size="11" text-anchor="end" font-weight="normal" >1.0</text>
<line x1="323.9" y1="311.85" x2="326.4" y2="311.85" stroke="#222" stroke-width="1"/>
<text x="319.2" y="316.8" font-size="11" text-anchor="end" font-weight="normal" >0.5</text>
<line x1="323.9" y1="334.6" x2="326.4" y2="334.6" stroke="#222" stroke-width="1"/>
<text x="319.2" y="339.38" font-size="11" text-anchor="end" font-weight="normal" >0.0</text>
<line x1="323.9" y1="334.6" x2="514.5" y2="334.6" stroke="#222" stroke-width="1"/>
<line x1="326.4" y1="334.6" x2="326.4" y2="336.9" stroke="#555" stroke-width="1"/>
<line x1="330.58" y1="334.6" x2="330.58" y2="336.2" stroke="#555" stroke-width="1"/>
<line x1="334.76" y1="334.6" x2="334.76" y2="336.2" stroke="#555" stroke-width="1"/>
<line x1="338.94" y1="334.6" x2="338.94" y2="336.2" stroke="#555" stroke-width="1"/>
<line x1="343.12" y1="334.6" x2="343.12" y2="336.2" stroke="#555" stroke-width="1"/>
<line x1="347.3" y1="334.6" x2="347.3" y2="336.9" stroke="#555" stroke-width="1"/>
<line x1="351.48" y1="334.6" x2="351.48" y2="336.2" stroke="#555" stroke-width="1"/>
<line x1="355.66" y1="334.6" x2="355.66" y2="336.2" stroke="#555" stroke-width="1"/>
<line x1="359.84" y1="334.6" x2="359.84" y2="336.2" stroke="#555" stroke-width="1"/>
<line x1="364.02" y1="334.6" x2="364.02" y2="336.2" stroke="#555" stroke-width="1"/>
<line x1="368.2" y1="334.6" x2="368.2" y2="336.9" stroke="#555" stroke-width="1"/>
<line x1="372.38" y1="334.6" x2="372.38" y2="336.2" stroke="#555" stroke-width="1"/>
<line x1="376.56" y1="334.6" x2="376.56" y2="336.2" stroke="#555" stroke-width="1"/>
<line x1="380.74" y1="334.6" x2="380.74" y2="336.2" stroke="#555" stroke-width="1"/>
<line x1="384.92" y1="334.6" x2="384.92" y2="336.2" stroke="#555" stroke-width="1"/>
<line x1="389.1" y1="334.6" x2="389.1" y2="336.9" stroke="#555" stroke-width="1"/>
<line x1="393.28" y1="334.6" x2="393.28" y2="336.2" stroke="#555" stroke-width="1"/>
<line x1="397.46" y1="334.6" x2="397.46" y2="336.2" stroke="#555" stroke-width="1"/>
<line x1="401.64" y1="334.6" x2="401.64" y2="336.2" stroke="#555" stroke-width="1"/>
<line x1="405.82" y1="334.6" x2="405.82" y2="336.2" stroke="#555" stroke-width="1"/>
<line x1="410" y1="334.6" x2="410" y2="336.9" stroke="#555" stroke-width="1"/>
<line x1="414.18" y1="334.6" x2="414.18" y2="336.2" stroke="#555" stroke-width="1"/>
<line x1="418.36" y1="334.6" x2="418.36" y2="336.2" stroke="#555" stroke-width="1"/>
<line x1="422.54" y1="334.6" x2="422.54" y2="336.2" stroke="#555" stroke-width="1"/>
<line x1="426.72" y1="334.6" x2="426.72" y2="336.2" stroke="#555" stroke-width="1"/>
<line x1="430.9" y1="334.6" x2="430.9" y2="336.9" stroke="#555" stroke-width="1"/>
<line x1="435.08" y1="334.6" x2="435.08" y2="336.2" stroke="#555" stroke-width="1"/>
<line x1="439.26" y1="334.6" x2="439.26" y2="336.2" stroke="#555" stroke-width="1"/>
<line x1="443.44" y1="334.6" x2="443.44" y2="336.2" stroke="#555" stroke-width="1"/>
<line x1="447.62" y1="334.6" x2="447.62" y2="336.2" stroke="#555" stroke-width="1"/>
<line x1="451.8" y1="334.6" x2="451.8" y2="336.9" stroke="#555" stroke-width="1"/>
<line x1="455.98" y1="334.6" x2="455.98" y2="336.2" stroke="#555" stroke-width="1"/>
<line x1="460.16" y1="334.6" x2="460.16" y2="336.2" stroke="#555" stroke-width="1"/>
<line x1="464.34" y1="334.6" x2="464.34" y2="336.2" stroke="#555" stroke-width="1"/>
<line x1="468.52" y1="334.6" x2="468.52" y2="336.2" stroke="#555" stroke-width="1"/>
<line x1="472.7" y1="334.6" x2="472.7" y2="336.9" stroke="#555" stroke-width="1"/>
<line x1="476.88" y1="334.6" x2="476.88" y2="336.2" stroke="#555" stroke-width="1"/>
<line x1="481.06" y1="334.6" x2="481.06" y2="336.2" stroke="#555" stroke-width="1"/>
<line x1="485.24" y1="334.6" x2="485.24" y2="336.2" stroke="#555" stroke-width="1"/>
<line x1="489.42" y1="334.6" x2="489.42" y2="336.2" stroke="#555" stroke-width="1"/>
<line x1="493.6" y1="334.6" x2="493.6" y2="336.9" stroke="#555" stroke-width="1"/>
<line x1="497.78" y1="334.6" x2="497.78" y2="336.2" stroke="#555" stroke-width="1"/>
<line x1="501.96" y1="334.6" x2="501.96" y2="336.2" stroke="#555" stroke-width="1"/>
<line x1="506.14" y1="334.6" x2="506.14" y2="336.2" stroke="#555" stroke-width="1"/>
<line x1="510.32" y1="334.6" x2="510.32" y2="336.2" stroke="#555" stroke-width="1"/>
<line x1="514.5" y1="334.6" x2="514.5" y2="336.9" stroke="#555" stroke-width="1"/>
<text x="327" y="350.1" font-size="11" text-anchor="middle" font-weight="normal" >0</text>
<text x="347.95" y="350.1" font-size="11" text-anchor="middle" font-weight="normal" >5</text>
<text x="369.8" y="350.1" font-size="11" text-anchor="middle" font-weight="normal" >10</text>
<text x="390.75" y="350.1" font-size="11" text-anchor="middle" font-weight="normal" >15</text>
<text x="410.8" y="350.1" font-size="11" text-anchor="middle" font-weight="normal" >20</text>
<text x="431.75" y="350.1" font-size="11" text-anchor="middle" font-weight="normal" >25</text>
<text x="452.7" y="350.1" font-size="11" text-anchor="middle" font-weight="normal" >30</text>
<text x="473.65" y="350.1" font-size="11" text-anchor="middle" font-weight="normal" >35</text>
<text x="494.6" y="350.1" font-size="11" text-anchor="middle" font-weight="normal" >40</text>
<text x="514" y="350.1" font-size="11" text-anchor="middle" font-weight="normal" >45</text>
<text x="417.45" y="368.9" font-size="11" text-anchor="middle" font-weight="normal" >Study Day</text>
<text x="-52.8" y="0" font-size="11" textLength="105.6" lengthAdjust="spacingAndGlyphs" transform="translate(284.4,278.85) rotate(-90)">Tumor Volume (cm<tspan dy="-3.4" font-size="8.5">3</tspan><tspan dy="3.4">)</tspan></text>
<text x="265.5" y="204.2" font-size="17.6" text-anchor="start" font-weight="bold" >D</text>
<text x="340.5" y="232.5" font-size="12.5" text-anchor="start" font-weight="normal" >OPM2</text>
<polygon points="402.5,195.8 410.1,195.8 406.3,202" fill="#000"/>
<polygon points="414.9,195.8 422.5,195.8 418.7,202" fill="#000"/>
<polygon points="427.3,195.8 434.9,195.8 431.1,202" fill="#000"/>
<polygon points="440,195.8 447.6,195.8 443.8,202" fill="#000"/>
<polygon points="452.2,195.8 459.8,195.8 456,202" fill="#000"/>
<polygon points="465,195.8 472.6,195.8 468.8,202" fill="#000"/>
<polygon points="477.4,195.8 485,195.8 481.2,202" fill="#000"/>
<line x1="493.6" y1="218.6" x2="493.6" y2="248.3" stroke="#666" stroke-width="1"/>
<line x1="490.35" y1="218.6" x2="496.85" y2="218.6" stroke="#666" stroke-width="1"/>
<line x1="490.35" y1="248.3" x2="496.85" y2="248.3" stroke="#666" stroke-width="1"/>
<line x1="481.06" y1="247.8" x2="481.06" y2="268.5" stroke="#666" stroke-width="1"/>
<line x1="477.81" y1="247.8" x2="484.31" y2="247.8" stroke="#666" stroke-width="1"/>
<line x1="477.81" y1="268.5" x2="484.31" y2="268.5" stroke="#666" stroke-width="1"/>
<line x1="472.7" y1="268.3" x2="472.7" y2="286" stroke="#666" stroke-width="1"/>
<line x1="469.45" y1="268.3" x2="475.95" y2="268.3" stroke="#666" stroke-width="1"/>
<line x1="469.45" y1="286" x2="475.95" y2="286" stroke="#666" stroke-width="1"/>
<line x1="464.34" y1="283.4" x2="464.34" y2="298" stroke="#666" stroke-width="1"/>
<line x1="461.09" y1="283.4" x2="467.59" y2="283.4" stroke="#666" stroke-width="1"/>
<line x1="461.09" y1="298" x2="467.59" y2="298" stroke="#666" stroke-width="1"/>
<line x1="451.8" y1="299.5" x2="451.8" y2="306.5" stroke="#666" stroke-width="1"/>
<line x1="448.55" y1="299.5" x2="455.05" y2="299.5" stroke="#666" stroke-width="1"/>
<line x1="448.55" y1="306.5" x2="455.05" y2="306.5" stroke="#666" stroke-width="1"/>
<line x1="443.44" y1="310" x2="443.44" y2="317.5" stroke="#666" stroke-width="1"/>
<line x1="440.19" y1="310" x2="446.69" y2="310" stroke="#666" stroke-width="1"/>
<line x1="440.19" y1="317.5" x2="446.69" y2="317.5" stroke="#666" stroke-width="1"/>
<line x1="493.6" y1="248.3" x2="493.6" y2="271.3" stroke="#555" stroke-width="1"/>
<line x1="490.35" y1="248.3" x2="496.85" y2="248.3" stroke="#555" stroke-width="1"/>
<line x1="490.35" y1="271.3" x2="496.85" y2="271.3" stroke="#555" stroke-width="1"/>
<line x1="481.06" y1="262" x2="481.06" y2="286.6" stroke="#555" stroke-width="1"/>
<line x1="477.81" y1="262" x2="484.31" y2="262" stroke="#555" stroke-width="1"/>
<line x1="477.81" y1="286.6" x2="484.31" y2="286.6" stroke="#555" stroke-width="1"/>
<line x1="472.7" y1="279" x2="472.7" y2="294.8" stroke="#555" stroke-width="1"/>
<line x1="469.45" y1="279" x2="475.95" y2="279" stroke="#555" stroke-width="1"/>
<line x1="469.45" y1="294.8" x2="475.95" y2="294.8" stroke="#555" stroke-width="1"/>
<line x1="464.34" y1="290" x2="464.34" y2="303.6" stroke="#555" stroke-width="1"/>
<line x1="461.09" y1="290" x2="467.59" y2="290" stroke="#555" stroke-width="1"/>
<line x1="461.09" y1="303.6" x2="467.59" y2="303.6" stroke="#555" stroke-width="1"/>
<line x1="443.44" y1="297.6" x2="443.44" y2="314" stroke="#555" stroke-width="1"/>
<line x1="440.19" y1="297.6" x2="446.69" y2="297.6" stroke="#555" stroke-width="1"/>
<line x1="440.19" y1="314" x2="446.69" y2="314" stroke="#555" stroke-width="1"/>
<line x1="435.08" y1="310.3" x2="435.08" y2="320" stroke="#555" stroke-width="1"/>
<line x1="431.83" y1="310.3" x2="438.33" y2="310.3" stroke="#555" stroke-width="1"/>
<line x1="431.83" y1="320" x2="438.33" y2="320" stroke="#555" stroke-width="1"/>
<line x1="493.6" y1="285.2" x2="493.6" y2="297.8" stroke="#555" stroke-width="1"/>
<line x1="490.35" y1="285.2" x2="496.85" y2="285.2" stroke="#555" stroke-width="1"/>
<line x1="490.35" y1="297.8" x2="496.85" y2="297.8" stroke="#555" stroke-width="1"/>
<line x1="481.06" y1="295.5" x2="481.06" y2="306.6" stroke="#555" stroke-width="1"/>
<line x1="477.81" y1="295.5" x2="484.31" y2="295.5" stroke="#555" stroke-width="1"/>
<line x1="477.81" y1="306.6" x2="484.31" y2="306.6" stroke="#555" stroke-width="1"/>
<line x1="472.7" y1="304.4" x2="472.7" y2="313" stroke="#555" stroke-width="1"/>
<line x1="469.45" y1="304.4" x2="475.95" y2="304.4" stroke="#555" stroke-width="1"/>
<line x1="469.45" y1="313" x2="475.95" y2="313" stroke="#555" stroke-width="1"/>
<line x1="464.34" y1="310" x2="464.34" y2="318.5" stroke="#555" stroke-width="1"/>
<line x1="461.09" y1="310" x2="467.59" y2="310" stroke="#555" stroke-width="1"/>
<line x1="461.09" y1="318.5" x2="467.59" y2="318.5" stroke="#555" stroke-width="1"/>
<line x1="493.6" y1="299.7" x2="493.6" y2="313.7" stroke="#555" stroke-width="1"/>
<line x1="490.35" y1="299.7" x2="496.85" y2="299.7" stroke="#555" stroke-width="1"/>
<line x1="490.35" y1="313.7" x2="496.85" y2="313.7" stroke="#555" stroke-width="1"/>
<line x1="481.06" y1="306.6" x2="481.06" y2="316" stroke="#555" stroke-width="1"/>
<line x1="477.81" y1="306.6" x2="484.31" y2="306.6" stroke="#555" stroke-width="1"/>
<line x1="477.81" y1="316" x2="484.31" y2="316" stroke="#555" stroke-width="1"/>
<line x1="472.7" y1="312" x2="472.7" y2="319.5" stroke="#555" stroke-width="1"/>
<line x1="469.45" y1="312" x2="475.95" y2="312" stroke="#555" stroke-width="1"/>
<line x1="469.45" y1="319.5" x2="475.95" y2="319.5" stroke="#555" stroke-width="1"/>
<line x1="493.6" y1="315.5" x2="493.6" y2="325.9" stroke="#555" stroke-width="1"/>
<line x1="490.35" y1="315.5" x2="496.85" y2="315.5" stroke="#555" stroke-width="1"/>
<line x1="490.35" y1="325.9" x2="496.85" y2="325.9" stroke="#555" stroke-width="1"/>
<line x1="481.06" y1="320" x2="481.06" y2="329" stroke="#555" stroke-width="1"/>
<line x1="477.81" y1="320" x2="484.31" y2="320" stroke="#555" stroke-width="1"/>
<line x1="477.81" y1="329" x2="484.31" y2="329" stroke="#555" stroke-width="1"/>
<line x1="472.7" y1="322.5" x2="472.7" y2="330" stroke="#555" stroke-width="1"/>
<line x1="469.45" y1="322.5" x2="475.95" y2="322.5" stroke="#555" stroke-width="1"/>
<line x1="469.45" y1="330" x2="475.95" y2="330" stroke="#555" stroke-width="1"/>
<path d="M384.92,332 C387.64,331.74 402.02,330.91 405.82,330 C409.62,329.09 412.01,325.78 414.18,325 C416.35,324.22 419.82,324.95 422.54,324 C425.26,323.05 432.36,319.05 435.08,317.7 C437.8,316.35 441.27,315.46 443.44,313.6 C445.61,311.74 449.08,306.42 451.8,303.4 C454.52,300.38 461.62,293.83 464.34,290.4 C467.06,286.97 470.53,281.16 472.7,277 C474.87,272.84 478.34,264.13 481.06,258.4 C483.78,252.67 491.97,236.22 493.6,232.9" fill="none" stroke="#222" stroke-width="1"/>
<path d="M384.92,332.5 C387.64,332.24 402.02,330.95 405.82,330.5 C409.62,330.05 412.01,330.03 414.18,329 C416.35,327.97 419.82,324.36 422.54,322.6 C425.26,320.85 432.36,317.67 435.08,315.5 C437.8,313.33 441.27,306.71 443.44,305.9 C445.61,305.09 449.08,310.51 451.8,309.3 C454.52,308.09 461.62,299.64 464.34,296.6 C467.06,293.56 470.53,289.06 472.7,285.9 C474.87,282.74 478.34,276.69 481.06,272.3 C483.78,267.91 491.97,254.73 493.6,252.1" fill="none" stroke="#000" stroke-width="1"/>
<path d="M384.92,332.5 C387.64,332.28 402.02,331.19 405.82,330.8 C409.62,330.41 412.01,330.23 414.18,329.5 C416.35,328.77 419.82,325.71 422.54,325.2 C425.26,324.69 432.36,326.07 435.08,325.6 C437.8,325.13 441.27,322.56 443.44,321.6 C445.61,320.64 449.08,319.15 451.8,318.2 C454.52,317.25 461.62,315.46 464.34,314.3 C467.06,313.14 470.53,310.96 472.7,309.3 C474.87,307.64 478.34,303.67 481.06,301.5 C483.78,299.33 491.97,293.76 493.6,292.6" fill="none" stroke="#000" stroke-width="1"/>
<path d="M384.92,332.5 C387.64,332.31 402.02,331.26 405.82,331 C409.62,330.74 412.01,330.82 414.18,330.5 C416.35,330.18 419.82,328.72 422.54,328.5 C425.26,328.28 432.36,329.14 435.08,328.8 C437.8,328.46 441.27,326.63 443.44,325.9 C445.61,325.17 449.08,324.12 451.8,323.2 C454.52,322.28 461.62,319.76 464.34,318.8 C467.06,317.84 470.53,316.91 472.7,315.8 C474.87,314.69 478.34,311.64 481.06,310.3 C483.78,308.96 491.97,306.12 493.6,305.5" fill="none" stroke="#000" stroke-width="1"/>
<path d="M384.92,333 C387.64,332.87 402.02,332.16 405.82,332 C409.62,331.84 412.01,331.76 414.18,331.8 C416.35,331.84 419.82,332.24 422.54,332.3 C425.26,332.37 432.36,332.4 435.08,332.3 C437.8,332.2 441.27,331.85 443.44,331.5 C445.61,331.15 449.08,330.04 451.8,329.6 C454.52,329.16 461.62,328.57 464.34,328.1 C467.06,327.63 470.53,326.55 472.7,326 C474.87,325.45 478.34,324.54 481.06,323.9 C483.78,323.26 491.97,321.46 493.6,321.1" fill="none" stroke="#000" stroke-width="1"/>
<rect x="381.67" y="329.25" width="6.5" height="5.5" fill="none" stroke="#666" stroke-width="1"/>
<rect x="402.57" y="327.25" width="6.5" height="5.5" fill="none" stroke="#666" stroke-width="1"/>
<rect x="410.93" y="322.25" width="6.5" height="5.5" fill="none" stroke="#666" stroke-width="1"/>
<rect x="419.29" y="321.25" width="6.5" height="5.5" fill="none" stroke="#666" stroke-width="1"/>
<rect x="431.83" y="314.95" width="6.5" height="5.5" fill="none" stroke="#666" stroke-width="1"/>
<rect x="440.19" y="310.85" width="6.5" height="5.5" fill="none" stroke="#666" stroke-width="1"/>
<rect x="448.55" y="300.65" width="6.5" height="5.5" fill="none" stroke="#666" stroke-width="1"/>
<rect x="461.09" y="287.65" width="6.5" height="5.5" fill="none" stroke="#666" stroke-width="1"/>
<rect x="469.45" y="274.25" width="6.5" height="5.5" fill="none" stroke="#666" stroke-width="1"/>
<rect x="477.81" y="255.65" width="6.5" height="5.5" fill="none" stroke="#666" stroke-width="1"/>
<rect x="490.35" y="230.15" width="6.5" height="5.5" fill="none" stroke="#666" stroke-width="1"/>
<polygon points="380.92,336.4 388.92,336.4 384.92,329.6" fill="#111"/>
<polygon points="401.82,335.4 409.82,335.4 405.82,328.6" fill="#111"/>
<polygon points="410.18,335.2 418.18,335.2 414.18,328.4" fill="#111"/>
<polygon points="418.54,335.7 426.54,335.7 422.54,328.9" fill="#111"/>
<polygon points="431.08,335.7 439.08,335.7 435.08,328.9" fill="#111"/>
<polygon points="439.44,334.9 447.44,334.9 443.44,328.1" fill="#111"/>
<polygon points="447.8,333 455.8,333 451.8,326.2" fill="#111"/>
<polygon points="460.34,331.5 468.34,331.5 464.34,324.7" fill="#111"/>
<polygon points="468.7,329.4 476.7,329.4 472.7,322.6" fill="#111"/>
<polygon points="477.06,327.3 485.06,327.3 481.06,320.5" fill="#111"/>
<polygon points="489.6,324.5 497.6,324.5 493.6,317.7" fill="#111"/>
<polygon points="384.92,329.5 387.92,332.5 384.92,335.5 381.92,332.5" fill="#fff" stroke="#111" stroke-width="1"/>
<polygon points="405.82,328 408.82,331 405.82,334 402.82,331" fill="#fff" stroke="#111" stroke-width="1"/>
<polygon points="414.18,327.5 417.18,330.5 414.18,333.5 411.18,330.5" fill="#fff" stroke="#111" stroke-width="1"/>
<polygon points="422.54,325.5 425.54,328.5 422.54,331.5 419.54,328.5" fill="#fff" stroke="#111" stroke-width="1"/>
<polygon points="435.08,325.8 438.08,328.8 435.08,331.8 432.08,328.8" fill="#fff" stroke="#111" stroke-width="1"/>
<polygon points="443.44,322.9 446.44,325.9 443.44,328.9 440.44,325.9" fill="#fff" stroke="#111" stroke-width="1"/>
<polygon points="451.8,320.2 454.8,323.2 451.8,326.2 448.8,323.2" fill="#fff" stroke="#111" stroke-width="1"/>
<polygon points="464.34,315.8 467.34,318.8 464.34,321.8 461.34,318.8" fill="#fff" stroke="#111" stroke-width="1"/>
<polygon points="472.7,312.8 475.7,315.8 472.7,318.8 469.7,315.8" fill="#fff" stroke="#111" stroke-width="1"/>
<polygon points="481.06,307.3 484.06,310.3 481.06,313.3 478.06,310.3" fill="#fff" stroke="#111" stroke-width="1"/>
<polygon points="493.6,302.5 496.6,305.5 493.6,308.5 490.6,305.5" fill="#fff" stroke="#111" stroke-width="1"/>
<circle cx="384.92" cy="332.5" r="3" fill="#111" stroke="#111" stroke-width="1"/>
<circle cx="405.82" cy="330.8" r="3" fill="#111" stroke="#111" stroke-width="1"/>
<circle cx="414.18" cy="329.5" r="3" fill="#111" stroke="#111" stroke-width="1"/>
<circle cx="422.54" cy="325.2" r="3" fill="#111" stroke="#111" stroke-width="1"/>
<circle cx="435.08" cy="325.6" r="3" fill="#111" stroke="#111" stroke-width="1"/>
<circle cx="443.44" cy="321.6" r="3" fill="#111" stroke="#111" stroke-width="1"/>
<circle cx="451.8" cy="318.2" r="3" fill="#111" stroke="#111" stroke-width="1"/>
<circle cx="464.34" cy="314.3" r="3" fill="#111" stroke="#111" stroke-width="1"/>
<circle cx="472.7" cy="309.3" r="3" fill="#111" stroke="#111" stroke-width="1"/>
<circle cx="481.06" cy="301.5" r="3" fill="#111" stroke="#111" stroke-width="1"/>
<circle cx="493.6" cy="292.6" r="3" fill="#111" stroke="#111" stroke-width="1"/>
<polygon points="384.92,329.5 387.92,332.5 384.92,335.5 381.92,332.5" fill="#111" stroke="#111" stroke-width="1"/>
<polygon points="405.82,327.5 408.82,330.5 405.82,333.5 402.82,330.5" fill="#111" stroke="#111" stroke-width="1"/>
<polygon points="414.18,326 417.18,329 414.18,332 411.18,329" fill="#111" stroke="#111" stroke-width="1"/>
<polygon points="422.54,319.6 425.54,322.6 422.54,325.6 419.54,322.6" fill="#111" stroke="#111" stroke-width="1"/>
<polygon points="435.08,312.5 438.08,315.5 435.08,318.5 432.08,315.5" fill="#111" stroke="#111" stroke-width="1"/>
<polygon points="443.44,302.9 446.44,305.9 443.44,308.9 440.44,305.9" fill="#111" stroke="#111" stroke-width="1"/>
<polygon points="451.8,306.3 454.8,309.3 451.8,312.3 448.8,309.3" fill="#111" stroke="#111" stroke-width="1"/>
<polygon points="464.34,293.6 467.34,296.6 464.34,299.6 461.34,296.6" fill="#111" stroke="#111" stroke-width="1"/>
<polygon points="472.7,282.9 475.7,285.9 472.7,288.9 469.7,285.9" fill="#111" stroke="#111" stroke-width="1"/>
<polygon points="481.06,269.3 484.06,272.3 481.06,275.3 478.06,272.3" fill="#111" stroke="#111" stroke-width="1"/>
<polygon points="493.6,249.1 496.6,252.1 493.6,255.1 490.6,252.1" fill="#111" stroke="#111" stroke-width="1"/>
</svg>
</body></html>
